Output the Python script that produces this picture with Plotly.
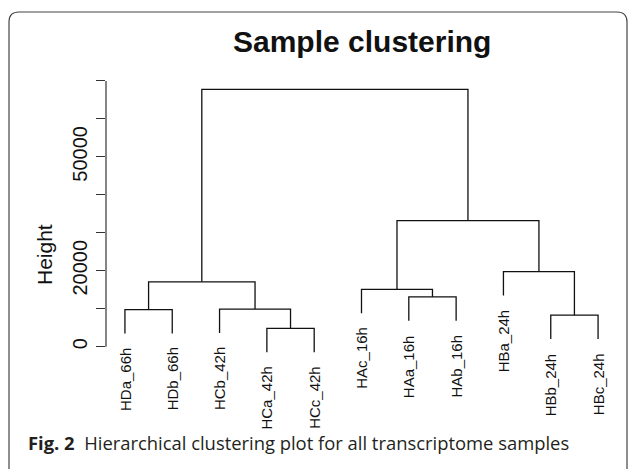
import plotly.graph_objects as go

# ---- data ----
leaf_labels = ["HDa_66h", "HDb_66h", "HCb_42h", "HCa_42h", "HCc_42h",
               "HAc_16h", "HAa_16h", "HAb_16h", "HBa_24h", "HBb_24h", "HBc_24h"]
# R-style merge table: negative = leaf (1-based), positive = earlier merge row
merge_left = [-4, -10, -1, -3, -7, -6, 3, -9, 6, 7]
merge_right = [-5, -11, -2, 1, -8, 5, 4, 2, 8, 9]
merge_height = [4850, 8300, 9750, 9900, 13100, 15100, 17100, 19800, 33200, 67800]
y_tickvals = [0, 10000, 20000, 30000, 40000, 50000, 60000, 70000]
y_ticktext = ["0", "", "20000", "", "", "50000", "", ""]

# ---- layout geometry (pixels) ----
W, H = 629, 469
L, R, T, B = 106, 12, 75, 104
pw, ph = W - L - R, H - T - B
def px(x): return (x - L) / pw
def py(y): return (H - B - y) / ph

hang = 0.1 * (max(merge_height) - min(merge_height))

# leaf x positions follow the label order
leaf_x = {i + 1: i + 1 for i in range(len(leaf_labels))}
node_x, node_y = {}, {}
xs, ys = [], []
leaf_end = {}
for k, (a, b, h) in enumerate(zip(merge_left, merge_right, merge_height), start=1):
    pts = []
    for c in (a, b):
        if c < 0:
            cx = leaf_x[-c]
            cy = h - hang
            leaf_end[-c] = cy
        else:
            cx, cy = node_x[c], node_y[c]
        pts.append((cx, cy))
    (x1, y1), (x2, y2) = pts
    xs += [x1, x1, x2, x2, None]
    ys += [y1, h, h, y2, None]
    node_x[k] = (x1 + x2) / 2
    node_y[k] = h

fig = go.Figure()
fig.add_trace(go.Scatter(x=xs, y=ys, mode="lines",
                         line=dict(color="#111", width=1.3),
                         hoverinfo="skip", showlegend=False, cliponaxis=False))

annotations = []
for i, lab in enumerate(leaf_labels, start=1):
    annotations.append(dict(x=leaf_x[i], y=leaf_end[i], xref="x", yref="y",
                            text=lab, showarrow=False, textangle=-90,
                            xanchor="center", yanchor="top", yshift=-12,
                            font=dict(family="Liberation Sans", size=15, color="#111")))
annotations.append(dict(x=0.5, y=py(41), xref="paper", yref="paper",
                        text="<b>Sample clustering</b>", showarrow=False,
                        xanchor="center", yanchor="middle",
                        font=dict(family="Liberation Sans", size=30, color="#111")))
annotations.append(dict(x=px(44), y=py(255), xref="paper", yref="paper",
                        text="Height", showarrow=False, textangle=-90,
                        xanchor="center", yanchor="middle",
                        font=dict(family="Liberation Sans", size=21, color="#111")))
annotations.append(dict(x=px(26), y=py(443), xref="paper", yref="paper",
                        text="<b>Fig. 2</b>  Hierarchical clustering plot for all transcriptome samples",
                        showarrow=False, xanchor="left", yanchor="middle",
                        font=dict(family="Open Sans", size=18.4, color="#231f20")))

shapes = [
    dict(type="line", xref="paper", yref="y", x0=0, x1=0,
         y0=y_tickvals[0], y1=y_tickvals[-1], line=dict(color="#333", width=1.2)),
    dict(type="path", xref="paper", yref="paper",
         path=(f"M {px(9)},{py(490)} L {px(9)},{py(22)} Q {px(9)},{py(12)} {px(19)},{py(12)} "
               f"L {px(617)},{py(12)} Q {px(627)},{py(12)} {px(627)},{py(22)} L {px(627)},{py(490)}"),
         line=dict(color="#444", width=1.2)),
]

fig.update_layout(
    width=W, height=H,
    margin=dict(l=L, r=R, t=T, b=B, pad=0),
    plot_bgcolor="white", paper_bgcolor="white",
    annotations=annotations, shapes=shapes,
    xaxis=dict(range=[0.6, len(leaf_labels) + 0.4], visible=False),
    yaxis=dict(range=[-4821, 71575],
               tickvals=y_tickvals, ticktext=y_ticktext, tickangle=-90,
               ticks="outside", ticklen=9, tickcolor="#333", tickwidth=1.2,
               showgrid=False, zeroline=False, showline=False,
               tickfont=dict(family="Liberation Sans", size=20, color="#111"),
               ticklabelstandoff=1),
)
fig.write_html("out.html", config={"displayModeBar": False},
               post_script="document.body.style.margin='0';")
